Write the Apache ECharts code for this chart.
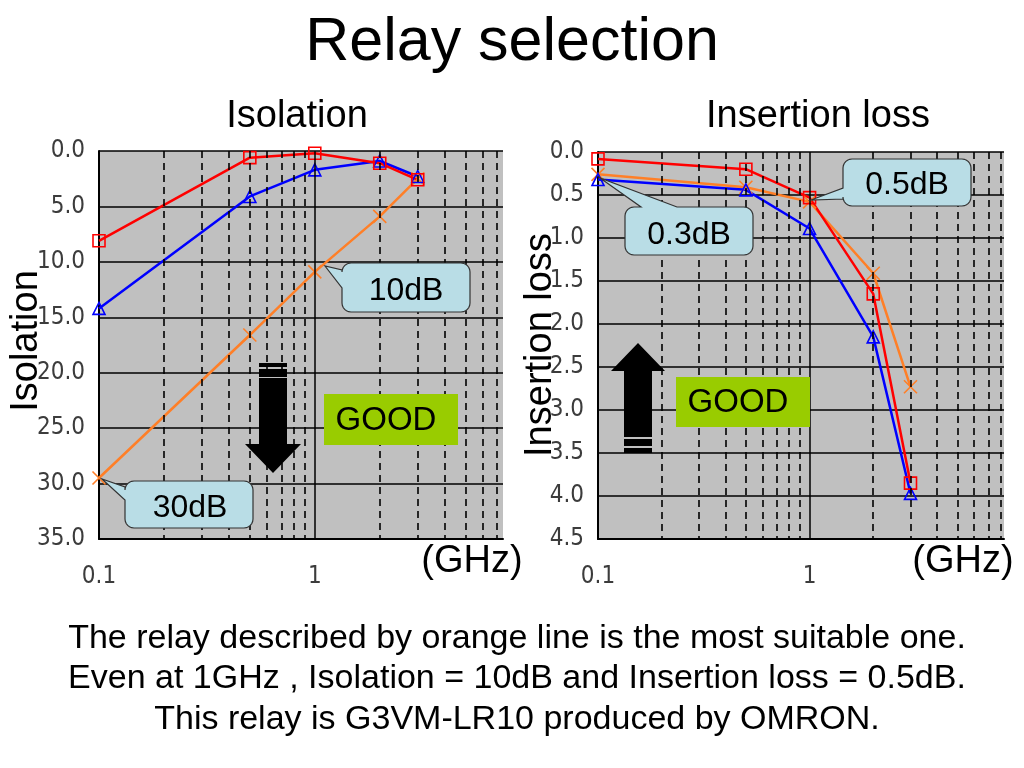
<!DOCTYPE html>
<html>
<head>
<meta charset="utf-8">
<script src="https://cdn.jsdelivr.net/npm/echarts@6/dist/echarts.min.js"></script>
<style>html,body{margin:0;padding:0;background:#fff}#c{width:1024px;height:768px}</style>
</head>
<body>
<div id="c"></div>
<script>
// ---- data ----
const freqs = [0.1, 0.5, 1, 2, 3];
const isoRed = [8.1, 0.6, 0.2, 1.1, 2.6];
const isoBlue = [14.2, 4.1, 1.7, 0.9, 2.3];
const isoOrange = [29.5, 16.6, 10.9, 5.9, 2.5];
const ilRed = [0.08, 0.2, 0.53, 1.65, 3.85];
const ilBlue = [0.32, 0.44, 0.89, 2.15, 3.97];
const ilOrange = [0.26, 0.41, 0.58, 1.41, 2.73];
const minorLeft = [0.2, 0.3, 0.4, 0.5, 0.6, 0.7, 0.8, 0.9, 2, 3, 4, 5, 6, 7];
const minorRight = [0.2, 0.3, 0.4, 0.5, 0.6, 0.7, 0.8, 0.9, 2, 3, 4, 5, 6, 7, 8];
const xLabels = ['0.1', '1'];

const RED = '#ff0000', BLUE = '#0000ff', ORANGE = '#ff7f27';
const SANS = '"Liberation Sans", Arial, sans-serif';
const NARROW = '"Liberation Sans Narrow", "Arial Narrow", "DejaVu Sans Condensed", "Liberation Sans", sans-serif';
const crossPath = 'path://M0,0L10,10M10,0L0,10';

function zip(xs, ys) { return xs.map((x, i) => [x, ys[i]]); }

function mkX(gi, max) {
  return {
    type: 'log', logBase: 10, gridIndex: gi, min: 0.1, max: max, position: 'bottom',
    axisLine: { onZero: false, lineStyle: { color: '#000', width: 2 } },
    axisTick: { show: false },
    splitLine: { show: false },
    axisLabel: {
      margin: 26, color: '#3c3c3c', fontSize: 24, fontFamily: NARROW,
      showMaxLabel: false,
      formatter: function (v) {
        const r = Math.round(v * 10) / 10;
        const s = String(r);
        return xLabels.indexOf(s) >= 0 ? s : '';
      }
    }
  };
}
function mkY(gi, max, interval) {
  return {
    type: 'value', gridIndex: gi, min: 0, max: max, interval: interval, inverse: true,
    axisLine: { show: true, lineStyle: { color: '#000', width: 2 } },
    axisTick: { show: false },
    splitLine: { show: true, lineStyle: { color: '#000', width: 1.5 } },
    axisLabel: {
      margin: 14, color: '#3c3c3c', fontSize: 24, fontFamily: NARROW,
      formatter: function (v) { return v.toFixed(1); }
    }
  };
}
function gridLines(gi, minor) {
  const data = minor.map(v => ({ xAxis: v }));
  data.push({ xAxis: 1, lineStyle: { type: 'solid', width: 1.5, color: '#000' } });
  return {
    type: 'line', xAxisIndex: gi, yAxisIndex: gi, data: [], z: 1, silent: true,
    markLine: {
      silent: true, animation: false, symbol: ['none', 'none'], label: { show: false },
      lineStyle: { color: '#000', type: [7, 5], width: 1.6 },
      data: data
    }
  };
}
function mkSeries(gi, ys, color, symbol, size) {
  return {
    type: 'line', xAxisIndex: gi, yAxisIndex: gi, data: zip(freqs, ys), z: 3, clip: false,
    symbol: symbol, symbolSize: size,
    lineStyle: { color: color, width: 2.5 },
    itemStyle: { color: 'rgba(0,0,0,0)', borderColor: color, borderWidth: 1.6 }
  };
}

// rounded callout polygon
function callout(x, y, w, h, r, p) {
  const pts = [];
  function arc(cx, cy, a0, a1) {
    const n = 6;
    for (let i = 0; i <= n; i++) {
      const t = a0 + (a1 - a0) * i / n;
      pts.push([cx + r * Math.cos(t), cy + r * Math.sin(t)]);
    }
  }
  const PI = Math.PI;
  arc(x + r, y + r, PI, 1.5 * PI);
  if (p.edge === 'top') { pts.push([p.a, y], [p.tx, p.ty], [p.b, y]); }
  arc(x + w - r, y + r, 1.5 * PI, 2 * PI);
  arc(x + w - r, y + h - r, 0, 0.5 * PI);
  arc(x + r, y + h - r, 0.5 * PI, PI);
  if (p.edge === 'left') { pts.push([x, p.b], [p.tx, p.ty], [x, p.a]); }
  return {
    type: 'polygon', z: 20, shape: { points: pts },
    style: { fill: '#b9dde6', stroke: '#333', lineWidth: 1.2 }
  };
}
function txt(s, x, y, size, extra) {
  return Object.assign({
    type: 'text', z: 30, x: x, y: y,
    style: { text: s, x: 0, y: 0, fontSize: size, fontFamily: SANS, fill: '#000', align: 'center', verticalAlign: 'middle' }
  }, extra || {});
}

const graphics = [
  txt('Relay selection', 512, 43, 61),
  txt('Isolation', 297, 117, 38),
  txt('Insertion loss', 818, 117, 38),
  txt('Isolation', 27, 341, 38, { rotation: Math.PI / 2 }),
  txt('Insertion loss', 541, 345, 38, { rotation: Math.PI / 2 }),
  txt('(GHz)', 472, 562, 38),
  txt('(GHz)', 963, 562, 38),
  txt('The relay described by orange line is the most suitable one.', 517, 639, 34),
  txt('Even at 1GHz , Isolation = 10dB and Insertion loss = 0.5dB.', 517, 679, 34),
  txt('This relay is G3VM-LR10 produced by OMRON.', 517, 720, 34),
  // GOOD boxes
  { type: 'rect', z: 20, shape: { x: 324, y: 394, width: 134, height: 51 }, style: { fill: '#99cc00' } },
  txt('GOOD', 386, 421, 33),
  { type: 'rect', z: 20, shape: { x: 676, y: 377, width: 134, height: 50 }, style: { fill: '#99cc00' } },
  txt('GOOD', 738, 403, 33),
  // down arrow (left)
  { type: 'rect', z: 20, shape: { x: 259, y: 363, width: 28, height: 4 }, style: { fill: '#000' } },
  { type: 'rect', z: 20, shape: { x: 259, y: 369, width: 28, height: 8 }, style: { fill: '#000' } },
  { type: 'polygon', z: 20, shape: { points: [[259, 378], [287, 378], [287, 444], [301, 444], [273, 473], [245, 444], [259, 444]] }, style: { fill: '#000' } },
  // up arrow (right)
  { type: 'polygon', z: 20, shape: { points: [[638, 343], [665, 371], [652, 371], [652, 437], [624, 437], [624, 371], [611, 371]] }, style: { fill: '#000' } },
  { type: 'rect', z: 20, shape: { x: 624, y: 439, width: 28, height: 7 }, style: { fill: '#000' } },
  { type: 'rect', z: 20, shape: { x: 624, y: 448, width: 28, height: 5 }, style: { fill: '#000' } },
  // callouts
  callout(342, 263, 128, 49, 9, { edge: 'left', a: 270, b: 288, tx: 325, ty: 266 }),
  txt('10dB', 406, 291, 32),
  callout(125, 481, 128, 47, 9, { edge: 'left', a: 487, b: 500, tx: 102, ty: 479 }),
  txt('30dB', 190, 508, 32),
  callout(843, 159, 128, 47, 9, { edge: 'left', a: 188, b: 199, tx: 811, ty: 200 }),
  txt('0.5dB', 907, 185, 32),
  callout(625, 207, 128, 48, 9, { edge: 'top', a: 641, b: 677, tx: 600, ty: 178 }),
  txt('0.3dB', 689, 235, 32)
];

const option = {
  animation: false,
  backgroundColor: '#fff',
  grid: [
    { left: 99, top: 151, width: 404, height: 388, show: true, backgroundColor: '#c0c0c0', borderWidth: 0 },
    { left: 598, top: 152, width: 406, height: 387, show: true, backgroundColor: '#c0c0c0', borderWidth: 0 }
  ],
  xAxis: [mkX(0, 7.45), mkX(1, 8.3)],
  yAxis: [mkY(0, 35, 5), mkY(1, 4.5, 0.5)],
  series: [
    gridLines(0, minorLeft),
    gridLines(1, minorRight),
    mkSeries(0, isoOrange, ORANGE, crossPath, 13),
    mkSeries(0, isoBlue, BLUE, 'triangle', 12),
    mkSeries(0, isoRed, RED, 'rect', 12),
    mkSeries(1, ilOrange, ORANGE, crossPath, 13),
    mkSeries(1, ilBlue, BLUE, 'triangle', 12),
    mkSeries(1, ilRed, RED, 'rect', 12)
  ],
  graphic: graphics
};
const chart = echarts.init(document.getElementById('c'));
chart.setOption(option);
</script>
</body>
</html>
